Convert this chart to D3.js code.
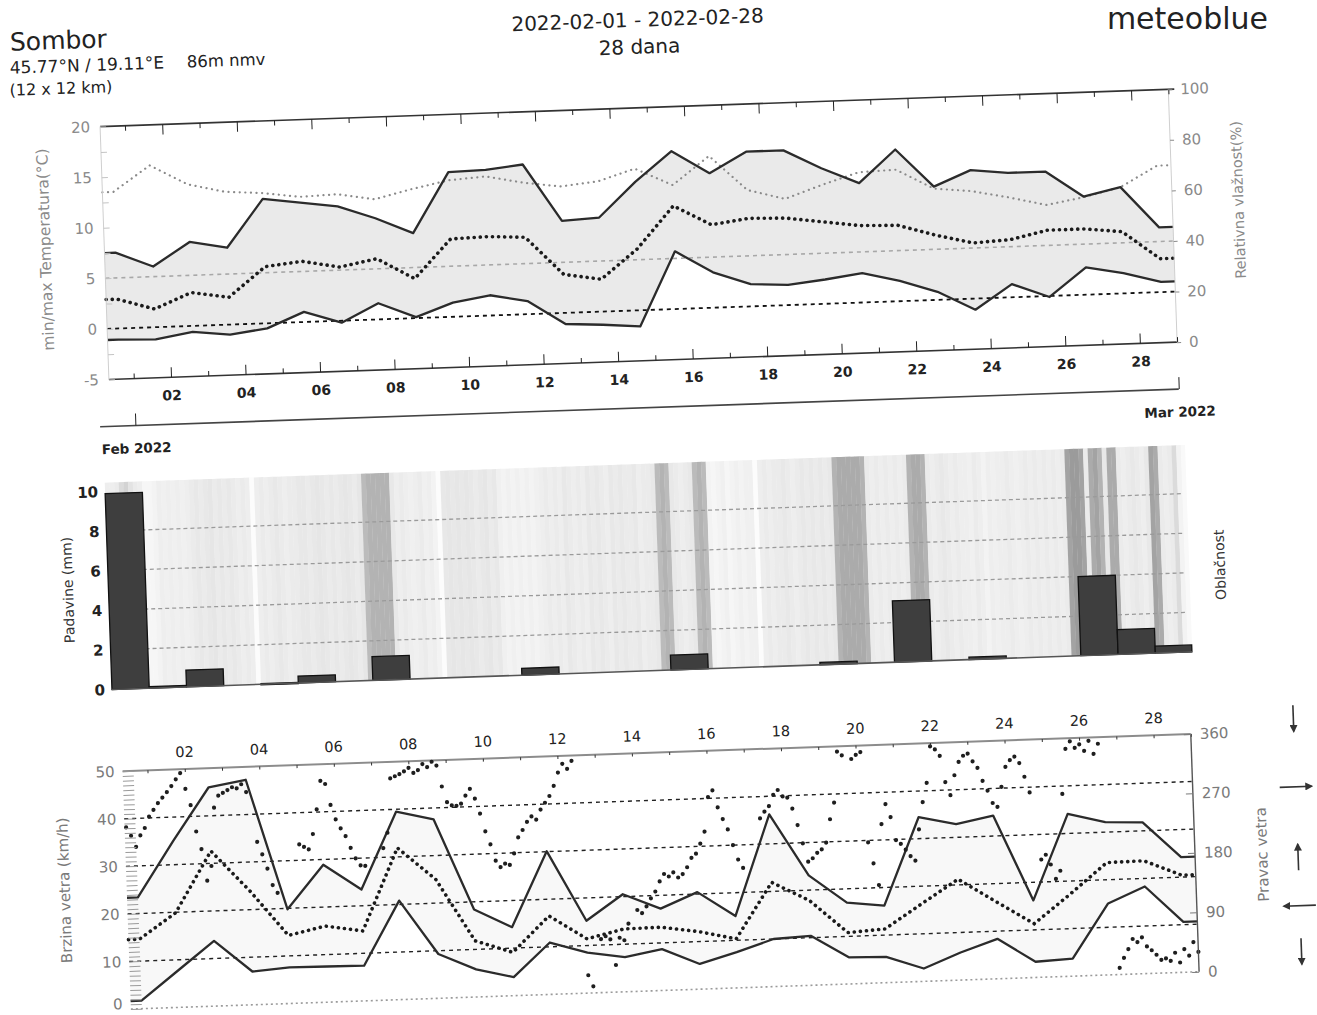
<!DOCTYPE html>
<html>
<head>
<meta charset="utf-8">
<script src="https://cdn.jsdelivr.net/npm/d3@7"></script>
<style>
  body { margin: 0; background: #fff; }
  svg { display: block; font-family: "DejaVu Sans", sans-serif; }
</style>
</head>
<body>
<svg id="chart" width="1317" height="1015"></svg>
<script>
(function() {

// daily values, 31 Jan .. 28 Feb 2022 (one per day)
const tempMax  = [7.5, 6.0, 8.3, 7.6, 12.3, 11.8, 11.3, 10.0, 8.4, 14.3, 14.4, 14.8, 9.1, 9.3, 12.7,
                  15.6, 13.3, 15.3, 15.3, 13.4, 11.8, 15.0, 11.2, 12.7, 12.3, 12.3, 9.7, 10.5, 6.4];
const tempMin  = [-1.1, -1.2, -0.6, -1.0, -0.5, 1.0, -0.2, 1.6, 0.1, 1.4, 2.0, 1.3, -1.1, -1.3, -1.6,
                  5.7, 3.5, 2.2, 2.0, 2.4, 2.9, 2.0, 0.8, -1.1, 1.3, -0.1, 2.7, 2.0, 1.0];
const tempMean = [2.9, 1.8, 3.3, 2.7, 5.6, 6.0, 5.3, 6.0, 3.9, 7.7, 7.8, 7.6, 3.8, 3.2, 6.1,
                  10.2, 8.2, 8.7, 8.6, 8.1, 7.6, 7.5, 6.4, 5.5, 5.7, 6.5, 6.5, 6.1, 3.3];
const humidity = [74, 84, 76, 72.5, 71.5, 69.5, 70, 67.5, 71, 74, 75, 72, 70, 71.5, 76,
                  69, 80, 66, 62, 67, 71.5, 72, 64, 62.5, 59.5, 56, 58.5, 62, 70];
const precip   = [9.9, 0.08, 0.85, 0, 0.03, 0.35, 0, 1.2, 0, 0, 0, 0.35, 0, 0, 0,
                  0.75, 0, 0, 0, 0.12, 0, 3.1, 0, 0.12, 0, 0, 4.0, 1.25, 0.35];
const windMax  = [23.4, 35, 46, 47.3, 19.8, 28.9, 23.4, 39.5, 37.6, 18.4, 14.4, 30.1, 15.2, 20.5, 17.2,
                  20.4, 15.1, 36.2, 23.1, 17.1, 16.2, 34.5, 32.8, 34.3, 16.2, 34.1, 32.1, 31.8, 24.2];
const windMin  = [1.7, 7.7, 13.7, 7.0, 7.6, 7.5, 7.4, 20.8, 9.3, 5.8, 3.9, 10.9, 8.5, 7.3, 8.7,
                  5.3, 7.5, 10.0, 10.4, 5.6, 5.4, 2.7, 5.8, 8.4, 3.3, 3.7, 15.0, 18.3, 10.6];
const windMean = [14.6, 19.9, 32.6, 24, 14.3, 16.0, 14.7, 31.9, 25.0, 11.8, 9.1, 16.5, 11.4, 13.2, 13.3,
                  12.1, 10.3, 21.9, 17.8, 10.8, 11.3, 16.3, 21.2, 16.2, 11.3, 17.3, 23.6, 23.7, 20.4];

// 3-hourly values, one row per day (slots 00 03 06 09 12 15 18 21 h)
const windDir = [
  [null, null, 275, 262, 245, 262, 273, 290],
  [300, 310, 318, 326, 335, 345, 354, 330],
  [305, 265, 238, 190, 212, 300, 318, 322],
  [326, 330, 328, 334, 322, null, 246, 227],
  [205, 180, 168, null, null, null, null, 240],
  [236, 232, 255, 292, 335, 330, 298, 276],
  [262, 250, 232, 216, 205, 204, null, null],
  [null, 230, 253, 335, 338, 341, 345, 350],
  [342, 346, 355, 350, 358, 352, 320, 296],
  [291, 290, 293, 305, 315, 300, 277, 250],
  [230, 205, 195, 200, 198, 215, 239, 250],
  [262, 270, 265, 280, 290, 300, 315, 335],
  [348, 340, 352, null, 27, 10, null, 81],
  [85, 80, 41, 82, 78, 103, null, 123],
  [118, 128, 140, 150, 165, 176, 172, 178],
  [170, 175, 185, 199, 205, 220, 238, 290],
  [300, 274, 256, 240, 216, 194, 181, null],
  [null, null, 255, 265, 273, 290, 297, 287],
  [285, 268, 243, 215, 187, 192, 200, 205],
  [215, 250, 275, 352, 346, null, 340, 346],
  [350, 213, 181, 148, 240, 270, 250, 215],
  [209, 200, 190, 183, 230, 271, 300, 355],
  [350, 340, 300, 280, 310, 330, 339, 342],
  [330, 320, 300, 285, 266, 260, 290, 320],
  [330, 335, 325, 304, 280, null, 178, 185],
  [170, 148, 160, 276, 344, 355, 345, 350],
  [340, 355, 335, 350, null, null, 10, 25],
  [38, 53, 48, 55, 41, 35, 28, 20],
  [22, 18, 30, 15, 35, 25, 45, 30]
];
const cloud = [
  [30, 30, 35, 55, 60, 50, 35, 30],
  [15, 15, 20, 30, 25, 30, 25, 30],
  [25, 30, 35, 40, 35, 40, 45, 35],
  [40, 35, 40, 35, 30, 35, 30, 5],
  [30, 35, 30, 35, 40, 35, 30, 35],
  [35, 40, 40, 35, 40, 45, 40, 35],
  [40, 35, 40, 45, 40, 35, 45, 75],
  [80, 80, 80, 80, 80, 40, 30, 35],
  [30, 25, 30, 35, 25, 30, 20, 5],
  [40, 45, 40, 45, 40, 45, 40, 35],
  [40, 45, 35, 40, 25, 20, 25, 20],
  [25, 20, 25, 20, 25, 30, 35, 30],
  [35, 30, 40, 35, 30, 35, 30, 40],
  [35, 40, 35, 30, 40, 35, 40, 35],
  [35, 40, 30, 35, 35, 40, 75, 80],
  [75, 40, 35, 30, 35, 40, 75, 80],
  [75, 20, 15, 20, 25, 15, 20, 25],
  [20, 25, 25, 5, 30, 35, 30, 35],
  [35, 40, 35, 30, 35, 40, 35, 40],
  [35, 40, 35, 40, 80, 85, 85, 85],
  [85, 85, 80, 35, 30, 35, 30, 35],
  [30, 35, 30, 35, 80, 85, 85, 80],
  [35, 30, 35, 40, 35, 30, 35, 30],
  [30, 25, 35, 30, 20, 30, 25, 30],
  [30, 35, 30, 25, 30, 35, 30, 35],
  [30, 35, 30, 35, 30, 35, 90, 95],
  [95, 90, 35, 85, 90, 80, 40, 85],
  [85, 35, 30, 35, 40, 35, 30, 40],
  [90, 85, 35, 30, 35, 55, 20, 10]
];

const tempTicks   = [-5, 0, 5, 10, 15, 20];
const humTicks    = [0, 20, 40, 60, 80, 100];
const precipTicks = [0, 2, 4, 6, 8, 10];
const precipGrid  = [2, 4, 6, 8];
const windTicks   = [0, 10, 20, 30, 40, 50];
const windGrid    = [10, 20, 30, 40];
const dirTicks    = [0, 90, 180, 270, 360];
const dirArrows   = [360, 270, 180, 90, 0];

const HOUR = 3600e3, DAY = 24 * HOUR, STEP = 3 * HOUR;
const SHIFT = 3 * HOUR;               // data sit a little to the right of the day ticks
const feb1 = new Date(Date.UTC(2022, 1, 1));
const mar1 = new Date(Date.UTC(2022, 2, 1));
const jan31 = new Date(Date.UTC(2022, 0, 31));
const start = new Date(Date.UTC(2022, 0, 31, 8));
const dataT = function(ms) { return new Date(jan31.getTime() + SHIFT + ms); };
const noons = tempMax.map(function(d, i) { return dataT(i * DAY + 12 * HOUR); });
const evenDays = d3.utcDay.range(new Date(Date.UTC(2022, 1, 2)), mar1, 2);
const oddDays = d3.utcDay.range(feb1, new Date(Date.UTC(2022, 2, 2)), 2);
const allDays = d3.utcDay.range(feb1, new Date(Date.UTC(2022, 2, 2)));

const svg = d3.select('#chart');

svg.append('defs').append('marker')
    .attr('id', 'ah').attr('viewBox', '0 0 10 10')
    .attr('refX', 8).attr('refY', 5)
    .attr('markerWidth', 5).attr('markerHeight', 5)
    .attr('orient', 'auto')
  .append('path').attr('d', 'M0,0L10,5L0,10z').attr('fill', '#333');

// logo sits at the very top; keep it level so it stays on the page
svg.append('text').attr('x', 1268).attr('y', 29).attr('text-anchor', 'end')
    .attr('font-size', 30).attr('fill', '#222').text('meteoblue');

// the printed page is a little tilted
const g = svg.append('g').attr('transform', 'rotate(-2,640,520)');

const x = d3.scaleUtc().domain([feb1, mar1]).range([139, 1183]);
const L = x(start), R = x(mar1);

function withEnds(vals) {
    var pts = vals.map(function(v, i) { return [noons[i], v]; });
    return [[start, vals[0]]].concat(pts, [[mar1, vals[vals.length - 1]]]);
}

function styleAxis(sel, size, color, weight) {
    sel.select('.domain').remove();
    sel.selectAll('.tick line').attr('stroke', color);
    sel.selectAll('.tick text')
        .attr('font-family', '"DejaVu Sans", sans-serif')
        .attr('font-size', size)
        .attr('font-weight', weight || 'normal')
        .attr('fill', color);
    return sel;
}

function hline(parent, y, x1, x2, color, width, dash) {
    parent.append('line')
        .attr('x1', x1).attr('x2', x2).attr('y1', y).attr('y2', y)
        .attr('stroke', color).attr('stroke-width', width)
        .attr('stroke-dasharray', dash || null);
}

function dotted(parent, data, xs, ys, color, width, gap) {
    parent.append('path').datum(data)
        .attr('d', d3.line().x(xs).y(ys))
        .attr('fill', 'none').attr('stroke', color)
        .attr('stroke-width', width).attr('stroke-linecap', 'round')
        .attr('stroke-dasharray', '0.1,' + gap);
}

function solid(parent, data, xs, ys) {
    parent.append('path').datum(data)
        .attr('d', d3.line().x(xs).y(ys))
        .attr('fill', 'none').attr('stroke', '#2b2b2b')
        .attr('stroke-width', 2.3).attr('stroke-linejoin', 'round');
}

function vtitle(parent, text, cx, cy, size, color) {
    parent.append('text')
        .attr('transform', 'translate(' + cx + ',' + cy + ') rotate(-90)')
        .attr('text-anchor', 'middle').attr('dy', '0.35em')
        .attr('font-size', size).attr('fill', color)
        .text(text);
}

const plain = function(d) { return String(d); };

// ---------- header ----------
const head = g.append('g').attr('fill', '#222');
head.append('text').attr('x', 27).attr('y', 29).attr('font-size', 25).text('Sombor');
head.append('text').attr('x', 26).attr('y', 52).attr('font-size', 17).text('45.77°N / 19.11°E');
head.append('text').attr('x', 203).attr('y', 52).attr('font-size', 16.5).text('86m nmv');
head.append('text').attr('x', 25).attr('y', 74).attr('font-size', 16).text('(12 x 12 km)');
head.append('text').attr('x', 655).attr('y', 27).attr('text-anchor', 'middle')
    .attr('font-size', 20).text('2022-02-01 - 2022-02-28');
head.append('text').attr('x', 656).attr('y', 54).attr('text-anchor', 'middle')
    .attr('font-size', 20).text('28 dana');

// ---------- temperature / humidity ----------
const yT = d3.scaleLinear().domain([-5, 20]).range([361, 108]);
const yH = d3.scaleLinear().domain([0, 100]).range([361, 108]);
const top = g.append('g');

const maxPts = withEnds(tempMax), minPts = withEnds(tempMin);
top.append('path').datum(maxPts.map(function(p, i) { return [p[0], p[1], minPts[i][1]]; }))
    .attr('d', d3.area()
        .x(function(d) { return x(d[0]); })
        .y0(function(d) { return yT(d[2]); })
        .y1(function(d) { return yT(d[1]); }))
    .attr('fill', '#eaeaea');

hline(top, yT(5), L, R, '#a8a8a8', 1.6, '4,4');
hline(top, yT(0), L, R, '#111', 1.8, '4,4');

const tx = function(d) { return x(d[0]); };
dotted(top, withEnds(humidity), tx, function(d) { return yH(d[1]); }, '#8a8a8a', 2.2, 5.5);
dotted(top, withEnds(tempMean), tx, function(d) { return yT(d[1]); }, '#1a1a1a', 3.6, 6);
solid(top, maxPts, tx, function(d) { return yT(d[1]); });
solid(top, minPts, tx, function(d) { return yT(d[1]); });

// frame
hline(top, yT(20), L, R + 6, '#333', 1.6);
hline(top, yT(-5), L, R, '#333', 1.6);
top.append('line').attr('x1', L).attr('x2', L).attr('y1', yT(20)).attr('y2', yT(-5))
    .attr('stroke', '#cfcfcf').attr('stroke-width', 1);
top.append('line').attr('x1', R).attr('x2', R).attr('y1', yT(20)).attr('y2', yT(-5))
    .attr('stroke', '#cfcfcf').attr('stroke-width', 1);

// day ticks on top and bottom edge
top.append('g').attr('transform', 'translate(0,' + yT(20) + ')')
    .call(d3.axisBottom(x).tickValues(evenDays).tickSize(10).tickFormat(''))
    .call(styleAxis, 1, '#222');
top.append('g').attr('transform', 'translate(0,' + yT(20) + ')')
    .call(d3.axisBottom(x).tickValues(oddDays).tickSize(5).tickFormat(''))
    .call(styleAxis, 1, '#222');
top.append('g').attr('transform', 'translate(0,' + yT(-5) + ')')
    .call(d3.axisBottom(x).tickValues(evenDays).tickSize(-10).tickPadding(13)
        .tickFormat(d3.utcFormat('%d')))
    .call(styleAxis, 14, '#222', 'bold');
top.append('g').attr('transform', 'translate(0,' + yT(-5) + ')')
    .call(d3.axisBottom(x).tickValues(oddDays).tickSize(-5).tickFormat(''))
    .call(styleAxis, 1, '#222');

top.append('g').attr('transform', 'translate(' + L + ',0)')
    .call(d3.axisLeft(yT).tickValues(d3.range(-5, 20.1, 2.5)).tickSize(-6).tickFormat(''))
    .call(styleAxis, 1, '#c4c4c4');
top.append('g').attr('transform', 'translate(' + (L - 4) + ',0)')
    .call(d3.axisLeft(yT).tickValues(tempTicks).tickSize(0).tickPadding(6).tickFormat(plain))
    .call(styleAxis, 15, '#8a8a8a');
top.append('g').attr('transform', 'translate(' + R + ',0)')
    .call(d3.axisRight(yH).tickValues(humTicks).tickSize(4).tickPadding(8).tickFormat(plain))
    .call(styleAxis, 15, '#8a8a8a');

vtitle(top, 'min/max Temperatura(°C)', 55, 229, 15.5, '#8a8a8a');
vtitle(top, 'Relativna vlažnost(%)', 1249, 221, 14.5, '#8a8a8a');

// month axis
const month = g.append('g');
hline(month, 408, x(jan31) + 2, R, '#444', 1.6);
month.append('g').attr('transform', 'translate(0,408)')
    .call(d3.axisBottom(x).tickValues([feb1, mar1]).tickSize(-12).tickPadding(18)
        .tickFormat(d3.utcFormat('%b %Y')))
    .call(styleAxis, 13.5, '#222', 'bold');

// ---------- precipitation / cloud cover ----------
const yP = d3.scaleLinear().domain([0, 10]).range([671, 473]);
const mid = g.append('g');
const cloudColor = d3.scaleLinear().domain([0, 20, 50, 100])
    .range(['#ffffff', '#f3f3f3', '#e3e3e3', '#939393']).clamp(true);
const M0 = dataT(0);

const slots = [];
cloud.forEach(function(row, di) {
    row.forEach(function(c, k) {
        slots.push({ t0: dataT(di * DAY + k * STEP), t1: dataT(di * DAY + (k + 1) * STEP), c: c });
    });
});
mid.selectAll('.cloud').data(slots).enter().append('rect')
    .attr('class', 'cloud')
    .attr('x', function(d) { return x(d.t0); })
    .attr('width', function(d) { return Math.max(0, Math.min(x(d.t1), R + 4) - x(d.t0) + 0.3); })
    .attr('y', 464)
    .attr('height', yP(0) - 464)
    .attr('fill', function(d) { return cloudColor(d.c); });

precipGrid.forEach(function(v) { hline(mid, yP(v), x(M0), R, '#9a9a9a', 1.3, '4,3'); });

const bars = precip.map(function(v, i) {
    return { t0: dataT(i * DAY), t1: dataT((i + 1) * DAY), v: v };
}).filter(function(d) { return d.v > 0; });
mid.selectAll('.bar').data(bars).enter().append('rect')
    .attr('class', 'bar')
    .attr('x', function(d) { return x(d.t0); })
    .attr('width', function(d) { return Math.min(x(d.t1), R + 4) - x(d.t0); })
    .attr('y', function(d) { return yP(d.v); })
    .attr('height', function(d) { return Math.max(1.2, yP(0) - yP(d.v)); })
    .attr('fill', '#3e3e3e').attr('stroke', '#111').attr('stroke-width', 1.3);

hline(mid, yP(0), x(M0), R + 4, '#555', 1.6);

mid.append('g').attr('transform', 'translate(' + (x(M0) - 3) + ',0)')
    .call(d3.axisLeft(yP).tickValues(precipTicks).tickSize(0).tickPadding(4))
    .call(styleAxis, 15, '#222', 'bold');
vtitle(mid, 'Padavine (mm)', 66, 570, 14, '#333');
vtitle(mid, 'Oblačnost', 1218, 585, 14, '#333');

// ---------- wind ----------
const yW = d3.scaleLinear().domain([0, 50]).range([991, 753]);
const yD = d3.scaleLinear().domain([0, 360]).range([991, 753]);
const wind = g.append('g');

const wMaxPts = withEnds(windMax), wMinPts = withEnds(windMin);
wind.append('path').datum(wMaxPts.map(function(p, i) { return [p[0], p[1], wMinPts[i][1]]; }))
    .attr('d', d3.area()
        .x(function(d) { return x(d[0]); })
        .y0(function(d) { return yW(d[2]); })
        .y1(function(d) { return yW(d[1]); }))
    .attr('fill', '#f8f8f8');

windGrid.forEach(function(v) { hline(wind, yW(v), L, R, '#222', 1.4, '4,4'); });
hline(wind, yW(0), L, R, '#9a9a9a', 1.6, '2,3');
hline(wind, yW(50), L, R, '#8c8c8c', 2);

dotted(wind, withEnds(windMean), tx, function(d) { return yW(d[1]); }, '#1a1a1a', 3.6, 6);
solid(wind, wMaxPts, tx, function(d) { return yW(d[1]); });
solid(wind, wMinPts, tx, function(d) { return yW(d[1]); });

const dirPts = [];
windDir.forEach(function(row, di) {
    row.forEach(function(v, k) {
        var t = dataT(di * DAY + k * STEP);
        if (v !== null && t >= start && t <= mar1) dirPts.push({ t: t, v: v });
    });
});
wind.selectAll('.dir').data(dirPts).enter().append('circle')
    .attr('class', 'dir')
    .attr('cx', function(d) { return x(d.t); })
    .attr('cy', function(d) { return yD(d.v); })
    .attr('r', 2.1)
    .attr('fill', '#1e1e1e');

wind.append('g').attr('transform', 'translate(0,' + yW(50) + ')')
    .call(d3.axisTop(x).tickValues(allDays).tickSize(-3).tickFormat(''))
    .call(styleAxis, 1, '#333');
wind.append('g').attr('transform', 'translate(0,' + yW(50) + ')')
    .call(d3.axisTop(x).tickValues(evenDays).tickSize(0).tickPadding(12)
        .tickFormat(d3.utcFormat('%d')))
    .call(styleAxis, 14.5, '#222');

wind.append('g').attr('transform', 'translate(' + L + ',0)')
    .call(d3.axisLeft(yW).tickValues(d3.range(0, 50.1, 1)).tickSize(-11).tickFormat(''))
    .call(styleAxis, 1, '#9a9a9a');
const wLeft = wind.append('g').attr('transform', 'translate(' + (L - 3) + ',0)')
    .call(d3.axisLeft(yW).tickValues(windTicks).tickSize(0).tickPadding(5).tickFormat(plain))
    .call(styleAxis, 15, '#7a7a7a');
// the bottom label sits a bit higher, as in the print
wLeft.selectAll('.tick text').filter(function(d) { return d === 0; }).attr('dy', '-0.05em');

wind.append('line').attr('x1', R).attr('x2', R).attr('y1', yD(360)).attr('y2', yD(0))
    .attr('stroke', '#555').attr('stroke-width', 1.4);
wind.append('g').attr('transform', 'translate(' + R + ',0)')
    .call(d3.axisRight(yD).tickValues(dirTicks).tickSize(-7).tickPadding(9).tickFormat(plain))
    .call(styleAxis, 15, '#7a7a7a');

vtitle(wind, 'Brzina vetra (km/h)', 52, 870, 15, '#7a7a7a');
vtitle(wind, 'Pravac vetra', 1250, 876, 15, '#7a7a7a');

// compass arrows beside the direction axis
const arrows = [
    { v: dirArrows[0], dx: 0, dy: 1, off: -12 },
    { v: dirArrows[1], dx: 1, dy: 0, off: -3 },
    { v: dirArrows[2], dx: 0, dy: -1, off: 8 },
    { v: dirArrows[3], dx: -1, dy: 0, off: -3 },
    { v: dirArrows[4], dx: 0, dy: 1, off: -17 }
];
wind.selectAll('.arrow').data(arrows).enter().append('line')
    .attr('class', 'arrow')
    .attr('x1', function(d) { return 1286 - d.dx * 16; })
    .attr('x2', function(d) { return 1286 + d.dx * 16; })
    .attr('y1', function(d) { return yD(d.v) + d.off - d.dy * 13; })
    .attr('y2', function(d) { return yD(d.v) + d.off + d.dy * 13; })
    .attr('stroke', '#333').attr('stroke-width', 1.6)
    .attr('marker-end', 'url(#ah)');

})();
</script>
</body>
</html>
